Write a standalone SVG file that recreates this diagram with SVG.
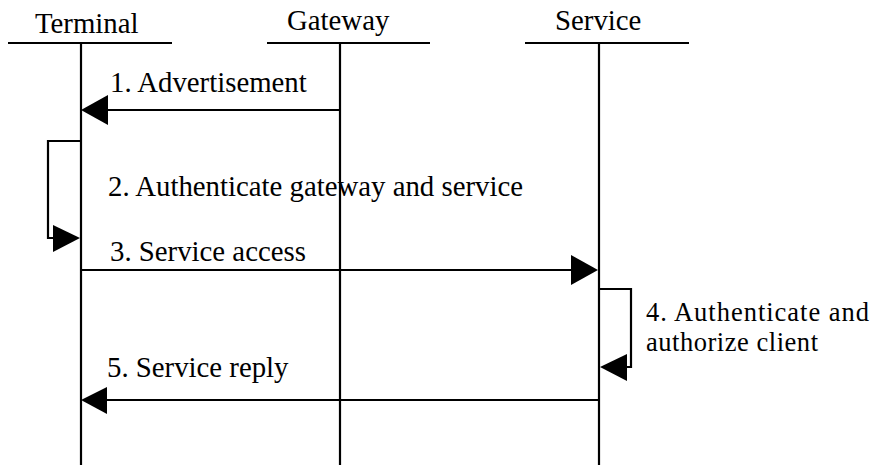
<svg xmlns="http://www.w3.org/2000/svg" width="873" height="465" viewBox="0 0 873 465">
  <style>
    .bg { fill: #ffffff; }
    .line { stroke: #000000; stroke-width: 2.2; fill: none; }
    .head { fill: #000000; }
    text { font-family: "Liberation Serif", "Times New Roman", serif; font-size: 28.8px; fill: #000000; }
    text.note { font-size: 26.5px; }
  </style>
  <rect class="bg" x="0" y="0" width="873" height="465"/>

  <!-- participants: header bar, name, lifeline -->
  <g id="terminal">
    <text x="35" y="33">Terminal</text>
    <line class="line" x1="8" y1="43" x2="172" y2="43"/>
    <line class="line" x1="81" y1="43" x2="81" y2="465"/>
  </g>
  <g id="gateway">
    <text x="287" y="30">Gateway</text>
    <line class="line" x1="267" y1="43" x2="430" y2="43"/>
    <line class="line" x1="340" y1="43" x2="340" y2="465"/>
  </g>
  <g id="service">
    <text x="555" y="30">Service</text>
    <line class="line" x1="525" y1="43" x2="689" y2="43"/>
    <line class="line" x1="599" y1="43" x2="599" y2="465"/>
  </g>

  <!-- messages -->
  <g id="connectors">
    <!-- 1. Advertisement: Gateway to Terminal -->
    <line class="line" x1="340" y1="110" x2="100" y2="110"/>
    <polygon class="head" points="81,110 108,95 108,125"/>
    <text x="110" y="92">1. Advertisement</text>

    <!-- 2. self check on Terminal -->
    <polyline class="line" points="81,141 48,141 48,238 60,238"/>
    <polygon class="head" points="80,238 53,225 53,252"/>
    <text x="108" y="196">2. Authenticate gateway and service</text>

    <!-- 3. Service access: Terminal to Service -->
    <line class="line" x1="81" y1="270" x2="580" y2="270"/>
    <polygon class="head" points="598,270 571,255 571,285"/>
    <text x="110" y="261">3. Service access</text>

    <!-- 4. self check on Service (two-line label) -->
    <polyline class="line" points="599,289 631,289 631,367 620,367"/>
    <polygon class="head" points="600,367 627,354 627,381"/>
    <text class="note" x="646" y="321" textLength="223">4. Authenticate and</text>
    <text class="note" x="646" y="351" textLength="172">authorize client</text>

    <!-- 5. Service reply: Service to Terminal -->
    <line class="line" x1="599" y1="400" x2="100" y2="400"/>
    <polygon class="head" points="81,400 107,387 107,414"/>
    <text x="107" y="377">5. Service reply</text>
  </g>
</svg>
